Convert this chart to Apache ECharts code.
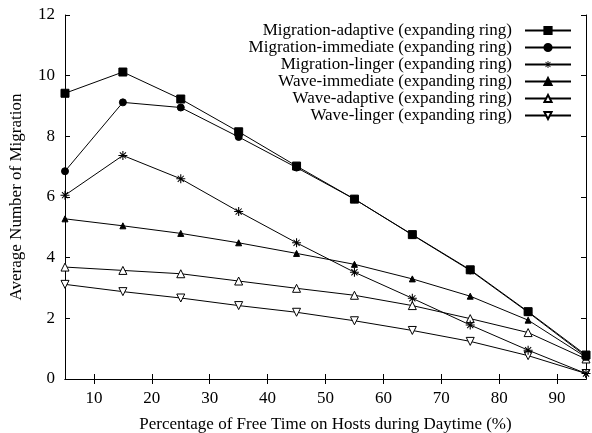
<!DOCTYPE html>
<html><head><meta charset="utf-8">
<script src="https://cdn.jsdelivr.net/npm/echarts@6/dist/echarts.min.js"></script>
<style>html,body{margin:0;padding:0;background:#fff}#c{width:592px;height:433px}</style>
</head><body><div id="c"></div>
<script>
const xValues = [5, 15, 25, 35, 45, 55, 65, 75, 85, 95];
const xTicks = [10, 20, 30, 40, 50, 60, 70, 80, 90];
const yTicks = [0, 2, 4, 6, 8, 10, 12];
const seriesNames = [
  'Migration-adaptive (expanding ring)',
  'Migration-immediate (expanding ring)',
  'Migration-linger (expanding ring)',
  'Wave-immediate (expanding ring)',
  'Wave-adaptive (expanding ring)',
  'Wave-linger (expanding ring)'
];
const migrationAdaptive  = [9.42, 10.12, 9.23, 8.15, 7.02, 5.93, 4.76, 3.6, 2.22, 0.79];
const migrationImmediate = [6.85, 9.12, 8.95, 7.98, 6.97, 5.93, 4.75, 3.58, 2.2, 0.75];
const migrationLinger    = [6.06, 7.37, 6.6, 5.52, 4.49, 3.52, 2.66, 1.78, 0.95, 0.18];
const waveImmediate      = [5.28, 5.05, 4.8, 4.49, 4.14, 3.78, 3.3, 2.73, 1.94, 0.72];
const waveAdaptive       = [3.69, 3.58, 3.47, 3.23, 2.99, 2.76, 2.42, 1.99, 1.53, 0.66];
const waveLinger         = [3.12, 2.88, 2.67, 2.42, 2.2, 1.92, 1.6, 1.24, 0.77, 0.18];

const allValues = [migrationAdaptive, migrationImmediate, migrationLinger, waveImmediate, waveAdaptive, waveLinger];
const FONT = '"Liberation Serif", "DejaVu Serif", serif';
const FS = 17;
// asterisk built from thin filled bars so it renders the same in plot and legend
const asterisk = 'path://M0,4.4L10,4.4L10,5.6L0,5.6Z M4.4,0L5.6,0L5.6,10L4.4,10Z ' +
  'M1.2,2L2,1.2L8.8,8L8,8.8Z M8,1.2L8.8,2L2,8.8L1.2,8Z';
const styles = [
  {symbol: 'rect', size: 8, fill: '#000', bw: 1},
  {symbol: 'circle', size: 7, fill: '#000', bw: 1},
  {symbol: asterisk, size: 9, fill: '#000', bw: 0},
  {symbol: 'triangle', size: 6, fill: '#000', bw: 1},
  {symbol: 'triangle', size: 8, fill: '#fff', bw: 1},
  {symbol: 'triangle', size: 8, fill: '#fff', bw: 1, rotate: 180}
];

const series = allValues.map((vals, i) => ({
  name: seriesNames[i],
  type: 'line',
  data: vals.map((v, j) => [xValues[j], v]),
  symbol: styles[i].symbol,
  symbolSize: styles[i].size,
  symbolRotate: styles[i].rotate || 0,
  showAllSymbol: true,
  lineStyle: {color: '#000', width: 1},
  itemStyle: {color: styles[i].fill, borderColor: '#000', borderWidth: styles[i].bw},
  emphasis: {disabled: true},
  animation: false,
  z: 10 - i
}));

const axisCommon = {
  axisLine: {show: true, lineStyle: {color: '#000', width: 1}},
  splitLine: {show: false}
};

const chart = echarts.init(document.getElementById('c'), null, {renderer: 'canvas'});
chart.setOption({
  backgroundColor: '#fff',
  animation: false,
  grid: {left: 65, right: 6, top: 15, bottom: 54, containLabel: false, outerBoundsMode: 'none'},
  legend: {
    orient: 'vertical',
    right: 15, top: 17,
    align: 'right',
    itemWidth: 46, itemHeight: 9,
    itemGap: 0,
    textStyle: {fontFamily: FONT, fontSize: FS, lineHeight: 17, color: '#000', padding: [0, 8, 0, 0]},
    data: seriesNames
  },
  xAxis: [
    Object.assign({}, axisCommon, {
      type: 'value', min: 5, max: 95, position: 'bottom',
      name: 'Percentage of Free Time on Hosts during Daytime (%)',
      nameLocation: 'middle', nameGap: 37,
      nameTextStyle: {fontFamily: FONT, fontSize: FS, color: '#000'},
      axisTick: {inside: true, length: 5, lineStyle: {color: '#000'}, customValues: xTicks},
      axisLabel: {fontFamily: FONT, fontSize: FS, color: '#000', margin: 11, customValues: xTicks}
    }),
    Object.assign({}, axisCommon, {
      type: 'value', min: 5, max: 95, position: 'top',
      axisTick: {inside: true, length: 5, lineStyle: {color: '#000'}, customValues: xTicks},
      axisLabel: {show: false, customValues: xTicks}
    })
  ],
  yAxis: [
    Object.assign({}, axisCommon, {
      type: 'value', min: 0, max: 12, interval: 2, position: 'left',
      name: 'Average Number of Migration',
      nameLocation: 'middle', nameGap: 40,
      nameTextStyle: {fontFamily: FONT, fontSize: FS, color: '#000'},
      axisTick: {inside: true, length: 5, lineStyle: {color: '#000'}},
      axisLabel: {fontFamily: FONT, fontSize: FS, color: '#000', margin: 10}
    }),
    Object.assign({}, axisCommon, {
      type: 'value', min: 0, max: 12, interval: 2, position: 'right',
      axisTick: {inside: true, length: 5, lineStyle: {color: '#000'}},
      axisLabel: {show: false}
    })
  ],
  series: series
});
</script></body></html>
